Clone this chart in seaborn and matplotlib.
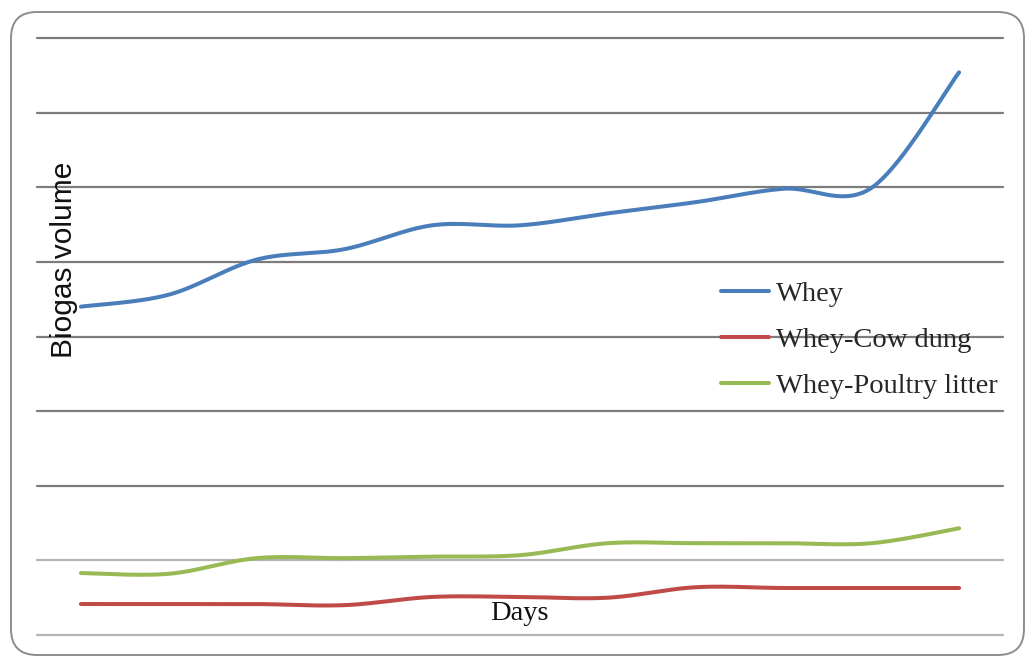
import numpy as np
import pandas as pd
import seaborn as sns
import matplotlib
matplotlib.use("Agg")
import matplotlib.pyplot as plt
import matplotlib.patches as mpatches
from matplotlib.transforms import IdentityTransform

# Daily readings (arbitrary volume units, one value per sampling day)
days = list(range(1, 12))
whey = [4.40, 4.56, 5.03, 5.17, 5.49, 5.49, 5.65, 5.80, 5.98, 5.99, 7.54]
whey_cow_dung = [0.415, 0.415, 0.415, 0.40, 0.51, 0.51, 0.50, 0.64, 0.63, 0.63, 0.63]
whey_poultry = [0.83, 0.82, 1.03, 1.03, 1.05, 1.07, 1.23, 1.23, 1.23, 1.23, 1.43]

series_names = ["Whey", "Whey-Cow dung", "Whey-Poultry litter"]
series_values = [whey, whey_cow_dung, whey_poultry]
colors = ["#4a7ebb", "#be4b48", "#98b954"]


def smooth(x, y, n=40):
    """Smoothed (Catmull-Rom style Bezier) rendering of a polyline."""
    x = np.asarray(x, float)
    y = np.asarray(y, float)
    px = np.concatenate([[x[0]], x, [x[-1]]])
    py = np.concatenate([[y[0]], y, [y[-1]]])
    xs, ys = [], []
    t = np.linspace(0, 1, n)[:, None]
    for i in range(1, len(px) - 2):
        p0 = np.array([px[i], py[i]])
        p3 = np.array([px[i + 1], py[i + 1]])
        p1 = p0 + (np.array([px[i + 1], py[i + 1]]) - np.array([px[i - 1], py[i - 1]])) / 6
        p2 = p3 - (np.array([px[i + 2], py[i + 2]]) - np.array([px[i], py[i]])) / 6
        pts = ((1 - t) ** 3) * p0 + 3 * ((1 - t) ** 2) * t * p1 + 3 * (1 - t) * t ** 2 * p2 + t ** 3 * p3
        xs.append(pts[:, 0])
        ys.append(pts[:, 1])
    return np.concatenate(xs), np.concatenate(ys)


frames = []
for name, vals in zip(series_names, series_values):
    sx, sy = smooth(days, vals)
    frames.append(pd.DataFrame({"day": sx, "volume": sy, "series": name}))
df = pd.concat(frames, ignore_index=True)

sns.set_style("white")
W, H = 1026, 657
fig = plt.figure(figsize=(W / 100, H / 100), dpi=100)
ax = fig.add_axes([37 / W, (H - 635) / H, (1003 - 37) / W, (635 - 38) / H])

sns.lineplot(data=df, x="day", y="volume", hue="series", palette=colors,
             sort=False, estimator=None, linewidth=2.9, ax=ax, legend=False,
             zorder=3)

ax.set_xlim(days[0] - 0.5, days[-1] + 0.5)
ax.set_ylim(0, 8)
ax.set_yticks(range(0, 9))
ax.set_xticks([])
ax.yaxis.grid(True, linewidth=1.6)
ax.set_axisbelow(True)
for i, gl in enumerate(ax.get_ygridlines()):
    gl.set_color("#b4b4b4" if i <= 1 else "#7c7c7c")
    gl.set_clip_on(False)
ax.tick_params(left=False, bottom=False, labelleft=False, labelbottom=False)
for sp in ax.spines.values():
    sp.set_visible(False)
ax.set_xlabel("")
ax.set_ylabel("")
ax.patch.set_alpha(0)

# Legend
handles = [plt.Line2D([], [], color=c, linewidth=2.9) for c in colors]
ax.legend(handles, series_names, loc="upper left",
          bbox_to_anchor=(721 / W, 1 - 281 / H), bbox_transform=fig.transFigure,
          frameon=False, prop={"family": "Liberation Serif", "size": 20.5},
          handlelength=1.68, handletextpad=0.24, labelspacing=0.7,
          borderpad=0, borderaxespad=0)

fig.text(64 / W, 1 - 260 / H, "Biogas volume", rotation=90, ha="center",
         va="center", fontsize=21.5, family="Liberation Sans", color="#111111")
fig.text(519 / W, 1 - 613 / H, "Days", ha="center", va="center",
         fontsize=20.5, family="Liberation Serif", color="#111111")

# Rounded outer frame
frame = mpatches.FancyBboxPatch((11, 2), 1013, 643,
                                boxstyle="round,pad=0,rounding_size=26",
                                transform=IdentityTransform(), fill=False,
                                edgecolor="#8c8c8c", linewidth=1.4)
fig.add_artist(frame)

fig.savefig("out.png", dpi=100)
